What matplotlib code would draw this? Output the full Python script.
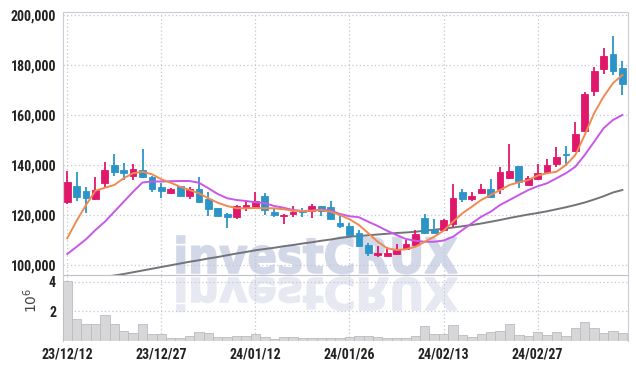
import matplotlib
matplotlib.use("Agg")
import matplotlib.pyplot as plt
from matplotlib.textpath import TextPath
from matplotlib.patches import PathPatch, Rectangle
from matplotlib.font_manager import FontProperties, findfont
from matplotlib.transforms import Affine2D

# daily candles (thousands of won)
opens = [125.1, 131.6, 129.6, 126.3, 132.7, 140.0, 138.0, 135.6, 138.0, 135.1,
         131.3, 128.9, 131.6, 127.7, 130.4, 126.3, 122.7, 120.4, 119.3, 122.9,
         123.3, 127.6, 121.3, 119.5, 120.5, 121.6, 121.7, 123.6, 123.1, 116.8,
         115.6, 112.7, 107.9, 104.0, 103.7, 104.4, 106.3, 108.0, 118.7, 114.0,
         114.0, 116.4, 129.3, 126.4, 128.7, 130.4, 130.3, 134.9, 139.6, 132.1,
         134.3, 137.1, 140.3, 144.4, 145.7, 153.7, 169.7, 178.5, 184.4, 178.7]
highs = [137.6, 137.1, 131.3, 135.1, 141.1, 144.3, 140.7, 140.3, 146.3, 135.6,
         132.9, 130.9, 131.6, 131.3, 135.1, 129.3, 122.9, 120.9, 123.9, 125.7,
         129.1, 128.9, 122.3, 120.4, 123.7, 122.7, 124.3, 123.8, 125.6, 120.0,
         116.7, 114.0, 108.9, 107.6, 107.3, 108.3, 110.0, 114.0, 120.4, 118.3,
         118.6, 132.3, 130.4, 129.1, 132.4, 134.4, 139.1, 148.3, 139.8, 135.7,
         140.5, 142.3, 147.3, 147.7, 157.3, 169.3, 179.3, 186.7, 191.6, 181.7]
lows = [124.4, 125.6, 120.9, 126.0, 130.7, 135.6, 134.0, 134.0, 134.7, 129.1,
        126.7, 128.4, 127.3, 126.3, 125.0, 119.6, 119.5, 114.7, 118.3, 121.6,
        123.0, 120.0, 119.3, 116.3, 119.3, 119.1, 118.7, 119.7, 118.2, 114.7,
        111.8, 107.1, 103.6, 103.3, 103.5, 104.2, 106.0, 107.6, 112.4, 112.7,
        113.5, 115.3, 125.3, 125.7, 128.3, 126.7, 128.4, 134.6, 130.7, 131.6,
        134.0, 136.8, 139.3, 139.6, 145.4, 153.4, 167.6, 176.4, 176.0, 168.0]
closes = [133.2, 127.1, 126.7, 130.0, 138.0, 137.3, 136.9, 138.3, 135.3, 130.3,
          129.7, 130.4, 127.7, 130.4, 125.3, 122.5, 119.7, 119.3, 123.6, 124.0,
          125.6, 122.0, 120.0, 120.0, 121.1, 121.1, 123.6, 121.7, 118.4, 115.6,
          112.0, 107.6, 104.9, 104.7, 104.7, 106.3, 108.3, 112.3, 112.7, 112.9,
          118.0, 126.9, 126.4, 127.7, 130.4, 127.3, 137.1, 137.6, 133.3, 134.9,
          136.7, 140.0, 143.3, 144.0, 152.4, 168.4, 177.6, 183.6, 177.6, 172.3]

# moving averages
ma_short = [110.7, 117.7, 124.0, 129.7, 130.9, 132.0, 134.7, 136.7, 137.3, 136.3,
            134.3, 132.9, 131.3, 130.0, 128.7, 126.7, 124.9, 123.6, 122.7, 122.7,
            122.8, 122.7, 122.7, 122.3, 121.7, 121.6, 121.7, 122.0, 121.3, 120.0,
            118.3, 116.0, 112.7, 109.3, 106.7, 106.0, 106.3, 107.3, 109.3, 111.3,
            113.7, 117.3, 120.7, 123.3, 126.0, 128.0, 130.0, 132.0, 133.1, 134.0,
            135.8, 136.7, 137.3, 140.0, 144.0, 152.0, 160.7, 167.3, 172.7, 176.0]
ma_mid = [104.4, 107.3, 110.3, 114.0, 117.3, 121.3, 125.3, 129.3, 133.0, 133.4,
          133.4, 133.5, 133.6, 133.6, 132.9, 130.7, 128.4, 126.7, 126.0, 125.6,
          125.1, 124.7, 123.6, 122.9, 122.0, 121.6, 121.7, 122.2, 121.8, 120.4,
          119.5, 119.1, 117.3, 115.6, 113.7, 112.0, 110.4, 109.7, 109.3, 109.3,
          109.8, 111.3, 114.0, 116.7, 119.3, 121.3, 124.0, 126.0, 128.0, 130.0,
          131.5, 132.7, 134.7, 136.7, 139.3, 144.0, 149.3, 154.7, 158.0, 160.0]
ma_long = [92.6, 93.3, 94.0, 94.7, 95.3, 95.8, 96.4, 97.1, 97.8, 98.5,
           99.2, 99.9, 100.6, 101.3, 101.9, 102.6, 103.2, 103.9, 104.6, 105.2,
           105.9, 106.4, 106.9, 107.5, 108.0, 108.6, 109.1, 109.7, 110.2, 110.8,
           111.3, 111.6, 111.9, 112.2, 112.5, 112.8, 113.0, 113.3, 113.7, 114.1,
           114.5, 115.0, 115.5, 116.0, 116.6, 117.3, 118.0, 118.8, 119.5, 120.2,
           120.8, 121.5, 122.3, 123.1, 124.0, 125.0, 126.2, 127.5, 129.0, 130.0]

# volume in millions
volume = [4.07, 1.47, 1.13, 1.13, 1.76, 1.15, 0.66, 0.52, 1.15, 0.47,
          0.46, 0.23, 0.23, 0.34, 0.59, 0.54, 0.25, 0.25, 0.32, 0.32,
          0.46, 0.25, 0.11, 0.25, 0.25, 0.18, 0.18, 0.23, 0.23, 0.23,
          0.25, 0.32, 0.32, 0.25, 0.18, 0.18, 0.18, 0.34, 1.00, 0.45,
          0.45, 1.08, 0.41, 0.25, 0.47, 0.61, 0.68, 1.15, 0.41, 0.34,
          0.59, 0.41, 0.59, 0.34, 0.86, 1.27, 0.86, 0.52, 0.66, 0.52]

tick_pos = [0, 10, 20, 30, 40, 50]
tick_labels = ['23/12/12', '23/12/27', '24/01/12', '24/01/26', '24/02/13', '24/02/27']

UP = '#e0186b'
DOWN = '#2c95c7'
GRID = '#c3c7d6'
SPINE = '#c9ccd6'
TXT = '#222222'


def pick_family(names):
    for nm in names:
        try:
            findfont(FontProperties(family=nm), fallback_to_default=False)
            return nm
        except Exception:
            pass
    return 'DejaVu Sans'


narrow = pick_family(['Roboto Condensed', 'Liberation Sans Narrow', 'Roboto'])
tick_font = {'family': [narrow, 'DejaVu Sans'], 'weight': 'bold',
             'size': 10 if narrow != 'Roboto' else 9.5}

fig = plt.figure(figsize=(6.36, 3.69), dpi=100, facecolor='white')
ax = fig.add_axes([63 / 636, 94 / 369, 565 / 636, 263 / 369], facecolor='none')
axv = fig.add_axes([63 / 636, 28 / 369, 565 / 636, 66 / 369], facecolor='none', sharex=ax)

# watermark + reflection, in pixel space
tp = TextPath((0, 0), "investCRUX", size=1, prop=FontProperties(family='DejaVu Sans', weight='bold'))
bb = tp.get_extents()
sx = 280 / bb.width
sy = 37 / bb.y1
t_main = Affine2D().translate(-bb.x0, 0).scale(sx, sy).translate(177, 96)
t_refl = Affine2D().translate(-bb.x0, 0).scale(sx, -sy * 0.9).translate(177, 91)
fig.add_artist(PathPatch(tp, transform=t_refl, facecolor='#e7e9f2', edgecolor='#e7e9f2',
                         linewidth=1.2, zorder=-2))
fig.add_artist(PathPatch(tp, transform=t_main, facecolor='#d2d8e8', edgecolor='#d2d8e8',
                         linewidth=1.2, zorder=-2))

n = len(closes)
x = list(range(n))
for i in x:
    o, h, l, c = opens[i] * 1000, highs[i] * 1000, lows[i] * 1000, closes[i] * 1000
    col = UP if c >= o else DOWN
    ax.vlines(i, l, h, color=col, linewidth=1.3, zorder=3)
    bot = min(o, c)
    hgt = max(abs(c - o), 250)
    ax.add_patch(Rectangle((i - 0.36, bot), 0.72, hgt, facecolor=col, edgecolor=col,
                           linewidth=0.6, zorder=4))

ax.plot(x, [v * 1000 for v in ma_long], color='#737379', linewidth=1.4, zorder=2)
ax.plot(x, [v * 1000 for v in ma_mid], color='#c957ea', linewidth=1.4, zorder=5)
ax.plot(x, [v * 1000 for v in ma_short], color='#f08a52', linewidth=1.4, zorder=5)

ax.set_xlim(-0.45, 59.6)
ax.set_ylim(96000, 201200)
ax.set_yticks(range(100000, 200001, 20000))
ax.set_yticklabels(['{:,}'.format(v) for v in range(100000, 200001, 20000)], fontdict=tick_font, color=TXT)
ax.set_xticks(tick_pos)
ax.tick_params(axis='x', labelbottom=False, length=0)
ax.tick_params(axis='y', length=0, pad=5)
ax.grid(True, color=GRID, linestyle=(0, (1, 2)), linewidth=0.9)
ax.set_axisbelow(True)
for s in ax.spines.values():
    s.set_color(SPINE)
ax.spines['bottom'].set_color('#c0c0c6')

axv.bar(x, [v * 1e6 for v in volume], width=1.0, color='#d7d7d9', edgecolor='#bcbcc0', linewidth=0.6, zorder=3)
axv.set_ylim(0, 4.47e6)
axv.set_yticks([2e6, 4e6])
axv.set_yticklabels(['2', '4'], fontdict=tick_font, color=TXT)
axv.set_xticks(tick_pos)
axv.set_xticklabels(tick_labels, fontdict=tick_font, color=TXT)
axv.tick_params(length=0)
axv.tick_params(axis='y', pad=5)
axv.tick_params(axis='x', pad=5)
axv.grid(True, color=GRID, linestyle=(0, (1, 2)), linewidth=0.9)
axv.set_axisbelow(True)
for s in axv.spines.values():
    s.set_color(SPINE)
axv.spines['top'].set_visible(False)
axv.spines['bottom'].set_visible(False)
axv.text(-0.058, 0.62, r'$10^6$', transform=axv.transAxes, rotation=90, ha='center', va='center',
         fontsize=10, color='#444444')

fig.savefig('out.png', dpi=100, facecolor='white')
